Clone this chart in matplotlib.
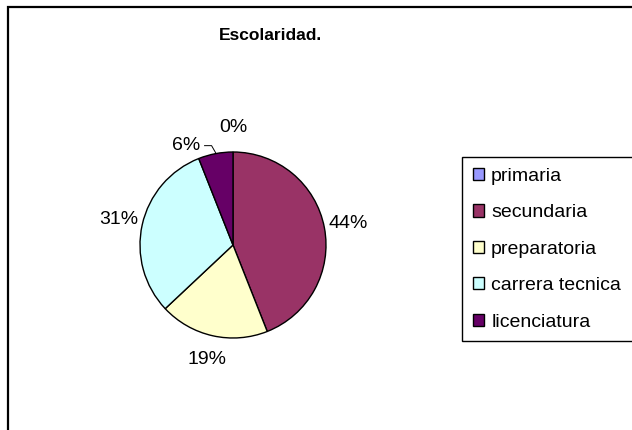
import matplotlib
matplotlib.use("Agg")
import matplotlib.pyplot as plt
from matplotlib.patches import Patch, Rectangle
import numpy as np

plt.rcParams['font.family'] = ['Liberation Sans', 'DejaVu Sans']

title = "Escolaridad."
categories = ["primaria", "secundaria", "preparatoria", "carrera tecnica", "licenciatura"]
values = [0, 44, 19, 31, 6]
colors = ["#9999FF", "#993366", "#FFFFCC", "#CCFFFF", "#660066"]

W, H = 632, 430
fig = plt.figure(figsize=(W / 100, H / 100), dpi=100)
fig.patch.set_facecolor("white")

# outer chart-area border (extends beyond right/bottom edge)
fig.patches.append(Rectangle((8 / W, -0.05), 1.0, (H - 7) / H + 0.05, transform=fig.transFigure,
                             fill=False, edgecolor="black", linewidth=1.6))

ax = fig.add_axes([0, 0, 1, 1])

cx, cy, r = 233, H - 245, 93
wedges, _ = ax.pie(values, colors=colors, startangle=90, counterclock=False,
                   center=(cx, cy), radius=r,
                   wedgeprops=dict(edgecolor="black", linewidth=1.0))
ax.set_xlim(0, W)
ax.set_ylim(0, H)
ax.set_aspect("equal")
ax.axis("off")

fs = 14
total = sum(values)
ang = 90.0
for i, v in enumerate(values):
    a0 = ang
    ang -= 360.0 * v / total
    mid = np.deg2rad((a0 + ang) / 2)
    lbl = f"{round(100 * v / total)}%"
    if categories[i] == "licenciatura":
        ex, ey = cx + r * np.cos(mid), cy + r * np.sin(mid)
        tx, ty = ex - 29, ey + 8
        ax.text(tx, ty, lbl, ha="center", va="center", fontsize=fs)
        ax.plot([tx + 18, tx + 25, ex], [ty, ty, ey + 1],
                color="black", linewidth=0.7)
    else:
        d = 1.26 * r
        ax.text(cx + d * np.cos(mid), cy + d * np.sin(mid), lbl,
                ha="center", va="center", fontsize=fs)

ax.text(271, H - 35, title, ha="center", va="center", fontsize=12.5, fontweight="bold")

handles = [Patch(facecolor=c, edgecolor="black", linewidth=1.0) for c in colors]
leg = fig.legend(handles, categories, loc="upper left",
                 bbox_to_anchor=(462 / W, (H - 157) / H, 200 / W, 0.0), mode="expand",
                 fontsize=fs, frameon=True, fancybox=False, borderaxespad=0, framealpha=1,
                 handlelength=0.6, handleheight=0.6, handletextpad=0.35,
                 labelspacing=1.0, borderpad=0.55)
leg.get_frame().set_edgecolor("black")
leg.get_frame().set_linewidth(1.0)

fig.savefig("out.png", dpi=100)
